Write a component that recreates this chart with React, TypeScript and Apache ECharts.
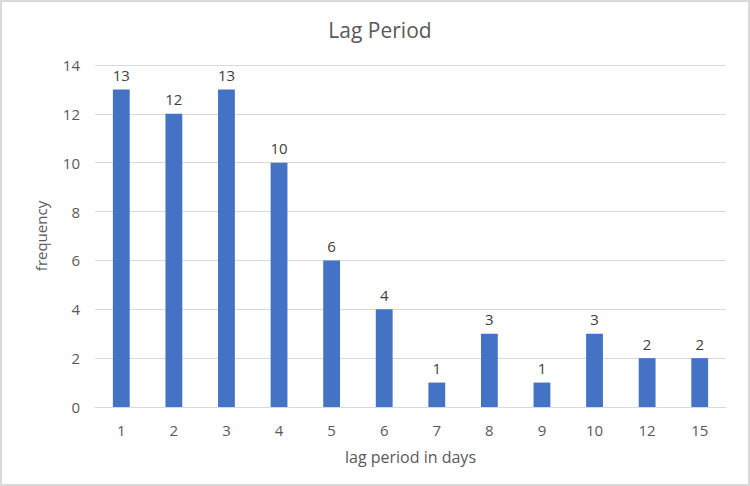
import React, { useEffect, useRef } from "react";
import * as echarts from "echarts";

const categories = ["1", "2", "3", "4", "5", "6", "7", "8", "9", "10", "12", "15"];
const frequency = [13, 12, 13, 10, 6, 4, 1, 3, 1, 3, 2, 2];
const chartTitle = "Lag Period";
const xAxisName = "lag period in days";
const yAxisName = "frequency";

export default function App() {
  const ref = useRef<HTMLDivElement>(null);
  useEffect(() => {
    if (!ref.current) return;
    const chart = echarts.init(ref.current, null, { renderer: "svg" });
    const font = "'Open Sans', sans-serif";
    chart.setOption({
      animation: false,
      textStyle: { fontFamily: font },
      title: {
        text: chartTitle,
        left: 375,
        top: 14,
        textAlign: "center",
        textStyle: { fontSize: 21, fontWeight: "normal", color: "#595959", fontFamily: font },
      },
      grid: { left: 95, right: 24, top: 65, bottom: 79, containLabel: false },
      xAxis: {
        type: "category",
        data: categories,
        name: xAxisName,
        nameLocation: "middle",
        nameGap: 42,
        nameTextStyle: { fontSize: 16, color: "#595959", fontFamily: font },
        axisLine: { show: true, lineStyle: { color: "#d9d9d9", width: 1 } },
        axisTick: { show: false },
        axisLabel: { fontSize: 15, color: "#595959", margin: 15, fontFamily: font },
      },
      yAxis: {
        type: "value",
        min: 0,
        max: 14,
        interval: 2,
        name: yAxisName,
        nameLocation: "middle",
        nameGap: 47,
        nameRotate: 90,
        nameTextStyle: { fontSize: 15, color: "#595959", fontFamily: font },
        axisLine: { show: false },
        axisTick: { show: false },
        axisLabel: { fontSize: 15, color: "#595959", margin: 15, fontFamily: font },
        splitLine: { lineStyle: { color: "#d9d9d9", width: 1 } },
      },
      series: [
        {
          type: "bar",
          data: frequency,
          barWidth: "32%",
          itemStyle: { color: "#4472c4" },
          label: {
            show: true,
            position: "top",
            distance: 7,
            fontSize: 15,
            color: "#404040",
            fontFamily: font,
          },
        },
      ],
    });
    return () => chart.dispose();
  }, []);
  return (
    <div
      style={{
        position: "absolute",
        left: 0,
        top: 0,
        width: 750,
        height: 486,
        boxSizing: "border-box",
        border: "2px solid #d9d9d9",
        background: "#ffffff",
      }}
    >
      <div ref={ref} style={{ position: "absolute", left: -2, top: -2, width: 750, height: 486 }} />
    </div>
  );
}
